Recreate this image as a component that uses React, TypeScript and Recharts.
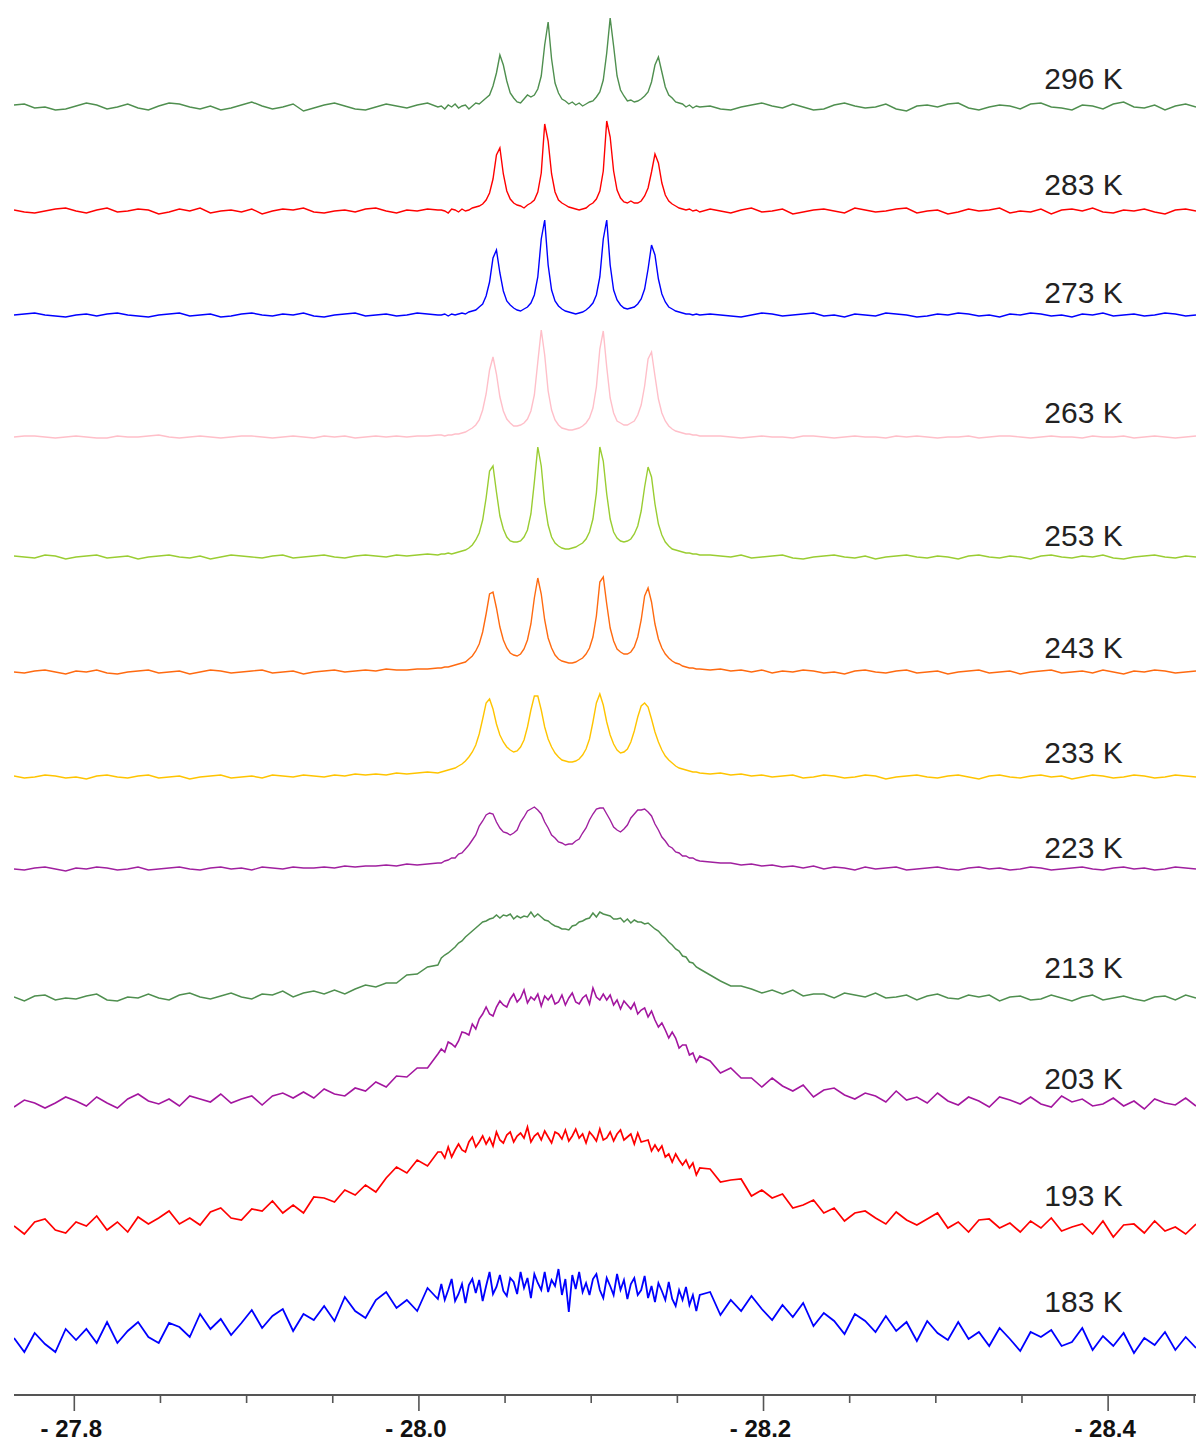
import React from 'react';
import { LineChart, Line, XAxis, YAxis, ReferenceDot } from 'recharts';

// chemical shift grid (ppm): coarse left, fine peak region, coarse right
const ppm = [
  -27.765, -27.771, -27.777, -27.783, -27.789, -27.795, -27.801, -27.807, -27.813, -27.819,
  -27.825, -27.831, -27.837, -27.843, -27.849, -27.855, -27.861, -27.867, -27.873, -27.879,
  -27.885, -27.891, -27.897, -27.903, -27.909, -27.915, -27.921, -27.927, -27.933, -27.939,
  -27.945, -27.951, -27.957, -27.963, -27.969, -27.975, -27.981, -27.987, -27.993, -27.999,
  -28.005, -28.011,
  -28.013, -28.015, -28.017, -28.019, -28.021, -28.023, -28.025, -28.027, -28.029, -28.031,
  -28.033, -28.035, -28.037, -28.039, -28.041, -28.043, -28.045, -28.047, -28.049, -28.051,
  -28.053, -28.055, -28.057, -28.059, -28.061, -28.063, -28.065, -28.067, -28.069, -28.071,
  -28.073, -28.075, -28.077, -28.079, -28.081, -28.083, -28.085, -28.087, -28.089, -28.091,
  -28.093, -28.095, -28.097, -28.099, -28.101, -28.103, -28.105, -28.107, -28.109, -28.111,
  -28.113, -28.115, -28.117, -28.119, -28.121, -28.123, -28.125, -28.127, -28.129, -28.131,
  -28.133, -28.135, -28.137, -28.139, -28.141, -28.143, -28.145, -28.147, -28.149, -28.151,
  -28.153, -28.155, -28.157, -28.159, -28.161, -28.163,
  -28.169, -28.175, -28.181, -28.187, -28.193, -28.199, -28.205, -28.211, -28.217, -28.223,
  -28.229, -28.235, -28.241, -28.247, -28.253, -28.259, -28.265, -28.271, -28.277, -28.283,
  -28.289, -28.295, -28.301, -28.307, -28.313, -28.319, -28.325, -28.331, -28.337, -28.343,
  -28.349, -28.355, -28.361, -28.367, -28.373, -28.379, -28.385, -28.391, -28.397, -28.403,
  -28.409, -28.415, -28.421, -28.427, -28.433, -28.439, -28.445, -28.451,
];

const temperatures = ['296 K', '283 K', '273 K', '263 K', '253 K', '243 K', '233 K', '223 K', '213 K', '203 K', '193 K', '183 K'];

const t296 = [
  2,3,-1,0,-3,-2, 1,4,2,-2,0,3, -1,-3,1,4,3,0, -2,1,-3,-1,2,5, 1,-2,0,3,-4,-1, 2,4,1,-2,-3,0, 3,1,-1,2,4,0,
  1,-2,2,0,3,-1,1,2,-2,1, 4,3,6,9,12,21,34,52,42,26, 14,9,5,4,8,12,10,12,18,31, 62,85,48,24,14,8,6,3,5,2,
  4,1,3,5,6,10,15,27,54,89, 61,31,17,11,6,7,5,6,8,11, 15,25,42,50,35,20,12,9,5,4, 3,0,2,-1,1,0,
  1,-2,-3,0,2,4, 1,-1,3,0,-3,-2, 2,4,1,-1,0,3, -2,-4,1,2,0,3, 4,-1,-3,0,2,1, -2,3,4,0,-1,-3, 2,1,-2,3,5,0, -1,2,-3,1,3,0,
];
const t283 = [
  1,-1,-2,0,2,3, 0,-2,1,3,-1,0, 2,1,-3,-1,2,0, 3,-2,0,1,-1,2, -3,0,2,1,3,-1, -2,0,1,-1,2,3, 0,-2,1,0,2,1,
  1,0,-2,2,1,-1,2,0,1,3, 4,5,7,11,18,32,56,63,37,20, 12,8,6,5,3,6,8,11,19,38, 87,70,37,19,11,8,6,4,3,2,
  1,2,3,6,8,12,20,40,90,74, 40,21,13,9,8,10,8,8,10,15, 23,39,57,48,28,16,10,7,5,3, 2,1,2,0,1,-1,
  2,0,-2,1,3,-1, 0,2,-3,-1,1,2, 0,-2,3,1,-1,0, 2,3,-2,0,1,-3, -1,2,0,1,3,-2, 0,-1,2,-3,1,2, 0,3,-1,-2,1,0, 2,-1,-3,1,2,0,
];
const t273 = [
  0,1,2,0,-1,-2, 0,1,-1,1,2,0, -1,-2,0,1,2,-1, 0,1,-2,-1,1,2, 0,-1,1,0,2,-1, -2,0,1,2,-1,0, 1,-1,0,2,1,0,
  0,1,-1,1,0,1,2,1,3,4, 5,8,11,19,33,57,65,42,24,14, 10,7,5,4,6,8,12,20,38,76, 95,50,25,14,9,6,4,3,2,1,
  2,3,5,8,12,20,38,76,95,50, 25,15,10,7,6,7,8,11,16,26, 46,70,60,36,21,13,8,6,4,3, 2,1,1,0,1,0,
  1,0,-1,-2,0,2, 1,-1,0,1,2,-1, 0,-2,1,0,-1,2, 1,0,-2,-1,1,0, 2,1,-1,0,-2,1, 0,2,1,-1,0,-2, 1,0,2,-1,0,1, -1,0,2,1,-1,0,
];
const t263 = [
  0,1,1,0,-1,0, 1,0,-1,-1,1,0, 0,1,2,0,-1,0, 1,0,-1,0,1,1, 0,-1,0,1,0,-1, 1,0,1,-1,0,1, 0,1,0,1,1,2,
  2,1,2,2,3,3,4,5,7,9, 12,17,27,43,67,80,63,40,26,18, 14,11,11,12,14,18,26,42,75,107, 82,46,27,17,12,9,8,7,7,8,
  9,11,14,19,29,50,88,106,70,39, 24,16,14,12,12,14,16,22,32,51, 78,85,61,38,24,16,11,8,6,5, 4,3,3,2,2,1,
  1,1,0,-1,0,1, 0,0,-1,1,1,0, -1,0,1,0,0,-1, 1,0,1,0,-1,0, 0,1,-1,0,1,1, 0,-1,0,1,0,0, -1,1,0,0,1,-1, 0,1,0,-1,0,1,
];
const t253 = [
  1,0,-1,2,1,-2, 0,1,2,-1,0,1, -2,0,1,2,0,-1, 1,-2,0,2,1,0, -1,1,2,-1,0,1, 2,0,-1,1,2,1, 0,2,1,2,3,2,
  3,3,4,3,4,5,6,7,9,12, 17,24,37,59,86,91,65,41,28,20, 16,15,15,16,20,27,43,75,110,91, 54,32,20,14,11,9,8,8,9,10,
  12,14,18,25,38,64,110,96,63,38, 25,19,16,15,16,18,23,31,46,70, 90,80,53,33,22,15,11,8,7,6, 5,4,4,3,3,2,
  2,1,0,2,-1,0, 1,2,-1,-2,0,1, 2,0,-1,1,-2,0, 1,2,0,-1,1,0, -2,1,2,0,-1,1, 0,-2,1,2,0,-1, 1,0,2,-1,-2,0, 1,2,0,-1,1,0,
];
const t243 = [
  0,-1,1,2,0,-2, 1,0,2,-1,-2,0, 1,2,-1,0,1,-2, 0,2,1,-1,0,1, 2,-1,0,1,-2,0, 1,2,0,1,2,1, 3,2,2,3,3,4,
  4,5,5,6,7,8,9,10,13,16, 21,28,40,58,78,80,64,45,32,24, 19,17,16,18,23,32,48,74,94,78, 52,34,24,17,13,11,10,9,9,10,
  12,14,18,24,35,56,90,95,68,44, 31,23,20,18,18,20,25,35,52,76, 84,70,48,33,24,18,14,11,9,8, 6,5,4,4,3,3,
  2,3,1,2,0,2, -1,1,0,2,1,-1, 0,-2,1,2,0,-1, 1,2,-1,0,1,-2, 0,1,2,-1,0,1, -2,0,1,2,-1,0, 1,-1,2,0,-2,1, 0,2,1,-1,0,1,
];
const t233 = [
  1,-1,0,2,1,-1, 0,-2,1,2,0,-1, 1,2,-1,0,1,-2, 0,1,2,-1,0,1, -1,2,1,0,2,1, 0,2,1,3,2,3, 2,4,3,4,5,4,
  5,6,7,8,9,11,13,16,20,25, 32,43,58,74,78,68,53,42,35,30, 27,25,26,30,37,50,67,81,81,67, 50,38,30,24,20,17,16,15,15,16,
  18,22,28,38,55,74,83,72,55,42, 33,27,24,25,28,35,46,60,71,74, 70,58,45,35,27,21,17,14,11,9, 8,7,6,5,5,4,
  3,4,2,3,1,2, 0,1,2,-1,0,2, 1,-1,0,2,1,-2, 0,1,2,0,-1,1, 2,0,-2,1,2,0, -1,1,2,0,1,-2, 0,2,1,-1,0,2, 1,-1,0,2,1,0,
];
const t223 = [
  0,-1,1,2,0,-2, 1,0,2,1,-1,0, 2,-1,0,1,2,0, -1,1,2,0,1,-1, 2,1,0,2,1,1, 2,1,3,2,3,3, 4,3,5,4,5,6,
  6,8,9,11,11,15,16,20,24,29, 34,43,48,54,56,55,47,41,37,36, 34,36,39,47,52,58,60,62,59,55, 47,41,34,31,27,26,24,25,25,28,
  30,36,41,49,55,60,61,61,55,49, 42,39,37,40,44,51,55,59,59,60, 57,53,45,39,32,28,23,21,17,16, 13,13,11,11,9,8,
  7,6,6,4,5,3, 4,2,3,1,3,0, 2,1,-1,2,0,1, 2,-1,0,1,2,0, -1,1,2,0,1,-1, 0,2,1,-1,0,1, 2,0,-1,1,2,0, 1,-1,0,2,1,0,
];
const t213 = [
  1,-3,2,3,-2,0, -1,2,4,-2,-3,1, 0,4,0,-2,3,5, 1,-1,2,5,1,-1, 4,3,7,1,5,7, 4,8,4,9,13,11, 15,15,23,24,31,33,
  40,43,45,48,51,55,57,61,64,67, 70,73,76,77,79,80,83,80,83,82, 84,79,82,80,82,81,86,81,84,81, 78,77,74,72,71,69,69,68,72,73,
  76,77,79,80,85,81,86,84,83,82, 79,79,80,76,79,75,78,76,76,74, 75,72,69,67,63,60,56,53,49,47, 42,41,36,35,31,29,
  23,17,12,12,9,5, 8,4,8,2,4,4, 0,5,3,1,5,0, 1,3,-2,2,4,0, -1,3,1,3,-3,1, 2,-2,-1,3,0,-3, 1,3,-2,0,2,-1, -3,1,2,-2,3,0,
];
const t203 = [
  -3,4,1,-4,1,7, 3,-2,7,1,-4,5, 10,3,0,5,-2,8, 5,2,10,1,5,8, -1,8,11,6,12,6, 15,10,8,16,13,22, 17,28,27,36,36,50,
  55,52,62,60,57,63,72,71,69,80, 75,85,90,97,90,88,97,103,99,97, 105,110,102,106,114,101,107,104,110,98, 108,104,109,100,102,109,99,106,111,102,
  100,106,109,100,116,107,104,110,104,109, 99,104,95,103,99,95,101,90,94,96, 87,93,84,77,81,74,66,72,66,56, 59,59,49,51,42,48,
  43,31,36,26,26,17, 26,18,13,19,7,14, 16,9,5,11,8,2, 13,4,7,1,11,3, -1,7,3,-3,7,4, 0,7,0,-3,8,2, 5,-2,0,6,-2,3, -5,5,1,-1,6,-2,
];
const t193 = [
  2,-6,6,9,-2,-5, 6,2,12,-2,6,-4, 11,4,10,17,4,10, 3,16,20,10,8,19, 17,27,15,23,15,31, 30,26,38,33,43,36, 50,61,55,68,62,76,
  76,70,81,71,78,84,78,76,86,91, 81,86,92,84,90,82,96,88,85,93, 96,86,92,95,90,101,86,92,95,88, 97,91,85,96,94,89,98,87,92,99,
  90,94,85,96,92,87,99,88,90,96, 87,94,98,88,91,94,84,95,86,87, 88,77,83,77,82,71,74,66,74,68, 63,68,60,65,53,60,
  59,46,48,49,32,38, 30,34,20,23,28,15, 20,7,15,17,10,4, 16,8,3,9,15,0, 6,-4,8,9,0,5, -4,7,0,10,-3,1, 4,-6,7,-9,3,4, -5,7,-3,1,-6,4,
];
const t183 = [
  4,-10,9,-2,-10,13, 2,13,-1,20,-1,11, 20,5,-1,19,15,5, 28,13,23,7,19,32, 14,26,33,11,28,22, 36,21,45,31,24,42, 50,34,42,31,54,43,
  58,42,52,63,41,48,58,39,57,63, 49,62,41,56,70,48,55,67,51,46, 64,60,48,70,54,64,44,68,59,52, 70,50,62,56,73,47,63,30,67,53,
  70,50,59,47,63,68,52,44,64,56, 47,68,52,62,43,58,64,47,52,66, 44,56,40,59,51,42,60,43,36,52, 42,55,37,47,31,47,
  50,27,42,31,46,33, 22,37,25,39,16,29, 21,8,28,21,10,26, 11,20,1,21,9,2, 20,3,10,-4,14,3, -9,10,5,12,-4,0, 14,-8,6,-4,9,-11, 4,-3,10,-8,5,-6,
];

const spectra = [t296, t283, t273, t263, t253, t243, t233, t223, t213, t203, t193, t183];

// vertical stacking offsets (intensity units) and label heights above each baseline
const stackOffsets = [1288, 1184, 1080, 958, 838, 723, 618, 526, 397, 291, 167, 53];
const labelRise = [29, 27, 23, 25, 22, 25, 25, 22, 31, 26, 33, 41];
const colors = ['#4f8f4f', '#ff0000', '#0000ff', '#ffbfc9', '#9acd32', '#ff6a10', '#ffc400', '#a0209f', '#4f8f4f', '#a3169f', '#ff0000', '#0000ff'];
const widths = [1.4, 1.4, 1.4, 1.4, 1.4, 1.4, 1.4, 1.4, 1.5, 1.6, 1.7, 1.8];

const majorTicks = [-27.8, -28.0, -28.2, -28.4];
const allTicks = [-27.8, -27.85, -27.9, -27.95, -28.0, -28.05, -28.1, -28.15, -28.2, -28.25, -28.3, -28.35, -28.4, -28.45];
const labelPpm = -28.3857;

const keys = temperatures.map((_, i) => 's' + i);
const chartData = ppm.map((x, i) => {
  const row: Record<string, number> = { x };
  spectra.forEach((s, j) => {
    row[keys[j]] = s[i] + stackOffsets[j];
  });
  return row;
});

const renderTick = (props: any) => {
  const { x, y, payload } = props;
  const v = payload.value as number;
  const major = majorTicks.some((m) => Math.abs(m - v) < 1e-6);
  return (
    <g>
      <line x1={x} y1={y} x2={x} y2={y + (major ? 16 : 8)} stroke="#555" strokeWidth={1.6} />
      {major && (
        <text
          x={x - 3}
          y={y + 42}
          textAnchor="middle"
          fontSize={24}
          fontWeight="bold"
          fill="#111"
          fontFamily="'Liberation Sans', Arial, sans-serif"
        >
          {'- ' + Math.abs(v).toFixed(1)}
        </text>
      )}
    </g>
  );
};

export default function App() {
  return (
    <div style={{ position: 'absolute', left: 0, top: 0, width: 1202, height: 1448, background: '#fff' }}>
      <LineChart width={1202} height={1448} data={chartData} margin={{ top: 0, right: 6, bottom: 0, left: 14 }}>
        <XAxis
          type="number"
          dataKey="x"
          domain={[-28.451, -27.765]}
          reversed
          allowDataOverflow
          ticks={allTicks}
          interval={0}
          tick={renderTick}
          tickLine={false}
          tickSize={0}
          tickMargin={0}
          axisLine={{ stroke: '#555', strokeWidth: 2 }}
          height={53}
        />
        <YAxis hide type="number" domain={[0, 1395]} allowDataOverflow />
        {keys.map((k, j) => (
          <Line
            key={k}
            dataKey={k}
            type="linear"
            stroke={colors[j]}
            strokeWidth={widths[j]}
            dot={false}
            activeDot={false}
            isAnimationActive={false}
          />
        ))}
        {temperatures.map((t, j) => (
          <ReferenceDot
            key={t}
            x={labelPpm}
            y={stackOffsets[j] + labelRise[j]}
            r={0}
            fill="none"
            stroke="none"
            label={{
              value: t,
              position: 'center',
              fill: '#222',
              fontSize: 30,
              fontFamily: "'Liberation Sans', Arial, sans-serif",
            }}
          />
        ))}
      </LineChart>
    </div>
  );
}
